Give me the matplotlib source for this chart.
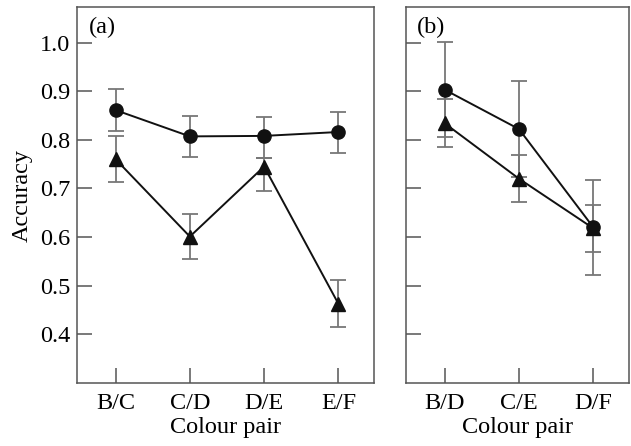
import matplotlib
matplotlib.use("Agg")
import matplotlib.pyplot as plt

# ---- data ----
a_cats = ['B/C', 'C/D', 'D/E', 'E/F']
a_circle = [0.861, 0.807, 0.808, 0.816]
a_circle_lo = [0.043, 0.042, 0.045, 0.043]
a_circle_hi = [0.043, 0.042, 0.039, 0.041]
a_tri = [0.760, 0.601, 0.745, 0.463]
a_tri_lo = [0.047, 0.047, 0.050, 0.048]
a_tri_hi = [0.047, 0.047, 0.017, 0.048]

b_cats = ['B/D', 'C/E', 'D/F']
b_circle = [0.903, 0.822, 0.620]
b_circle_err = [0.098, 0.098, 0.097]
b_tri = [0.834, 0.720, 0.618]
b_tri_err = [0.049, 0.048, 0.048]

yticks = [0.4, 0.5, 0.6, 0.7, 0.8, 0.9, 1.0]

plt.rcParams['font.family'] = ['Liberation Serif', 'DejaVu Serif']
FS = 17.5
frame_col = '#555555'
err_col = '#777777'

fig = plt.figure(figsize=(6.31, 4.46), dpi=100)
axa = fig.add_axes([77/631, 63/446, 297/631, 376/446])
axb = fig.add_axes([406/631, 63/446, 223/631, 376/446])


def style(ax, ncat, cats, labels=True):
    ax.set_xlim(-0.52, ncat - 0.52)
    ax.set_ylim(0.30, 1.073)
    ax.set_xticks(range(ncat))
    ax.set_xticklabels(cats, fontsize=FS)
    ax.set_yticks(yticks)
    if labels:
        ax.set_yticklabels([f'{v:.1f}' for v in yticks], fontsize=FS)
    else:
        ax.set_yticklabels([])
    ax.tick_params(direction='in', length=11, width=1.1, color=frame_col,
                   top=False, right=False)
    ax.tick_params(axis='y', pad=5)
    ax.tick_params(axis='x', pad=7)
    for s in ax.spines.values():
        s.set_color(frame_col)
        s.set_linewidth(1.1)
    ax.set_xlabel('Colour pair', fontsize=FS, labelpad=2)


def draw(ax, x, y, lo, hi, marker):
    ax.errorbar(x, y, yerr=[lo, hi], fmt='none', ecolor=err_col,
                elinewidth=1.3, capsize=5.5, capthick=1.3, zorder=2)
    ax.plot(x, y, color='#111111', lw=1.4, marker=marker, ms=9.5 if marker == 'o' else 10.5,
            markerfacecolor='#111111', markeredgecolor='#111111', zorder=3)


xa = list(range(len(a_cats)))
draw(axa, xa, a_circle, a_circle_lo, a_circle_hi, 'o')
draw(axa, xa, a_tri, a_tri_lo, a_tri_hi, '^')
style(axa, len(a_cats), a_cats)
axa.set_ylabel('Accuracy', fontsize=FS, labelpad=5)
axa.text(0.04, 0.975, '(a)', transform=axa.transAxes, fontsize=FS, va='top', ha='left')

xb = list(range(len(b_cats)))
draw(axb, xb, b_circle, b_circle_err, b_circle_err, 'o')
draw(axb, xb, b_tri, b_tri_err, b_tri_err, '^')
style(axb, len(b_cats), b_cats, labels=False)
axb.text(0.05, 0.975, '(b)', transform=axb.transAxes, fontsize=FS, va='top', ha='left')

fig.savefig('out.png', dpi=100)
